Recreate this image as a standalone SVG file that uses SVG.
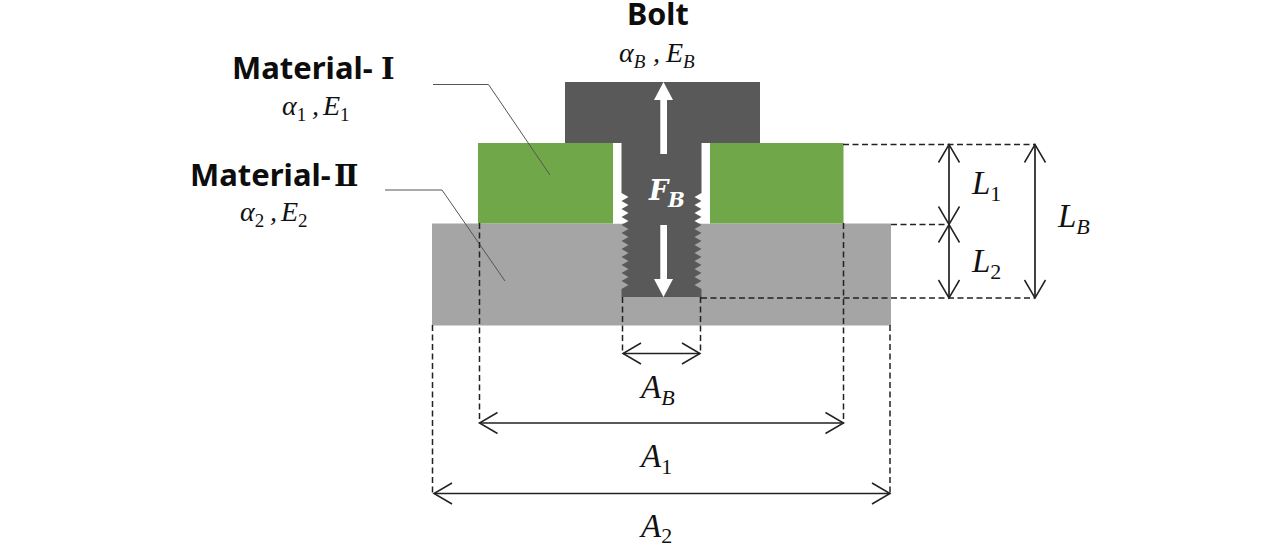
<svg xmlns="http://www.w3.org/2000/svg" width="1284" height="548" viewBox="0 0 1284 548">
<style>
.title{font-family:"Noto Sans","Noto Sans CJK JP",sans-serif;font-weight:700;font-size:31px;fill:#0d0d0d}
.num{font-family:"DejaVu Serif",serif;font-weight:700;font-size:29px}
.math{font-family:"Liberation Serif",serif;font-style:italic;fill:#111}
.m1{font-size:28px}
.m2{font-size:33px}
.s1{font-size:19px}
.s2{font-size:22px}
.sub{font-style:normal}
.fb{font-family:"DejaVu Serif",serif;font-weight:700;font-style:italic;fill:#fff}
.dash{fill:none;stroke:#222;stroke-width:1.500;stroke-dasharray:6 3.500}
.dim{fill:none;stroke:#222;stroke-width:1.700;marker-start:url(#open);marker-end:url(#open)}
.lead{fill:none;stroke:#555;stroke-width:1}
</style>
<defs>
<marker id="open" viewBox="-20 -12 22 24" refX="0" refY="0" markerWidth="22" markerHeight="24" markerUnits="userSpaceOnUse" orient="auto-start-reverse"><path d="M-18-10.500L0 0L-18 10.500" fill="none" stroke="#222" stroke-width="1.500"/></marker>
</defs>
<rect width="1284" height="548" fill="#fff"/>
<g id="material-2"><rect x="432" y="223.500" width="459" height="102" fill="#a5a5a5"/></g>
<g id="material-1"><rect x="478" y="143" width="135" height="80.500" fill="#70a849"/><rect x="710" y="143" width="133.500" height="80.500" fill="#70a849"/></g>
<g id="clearance"><rect x="613" y="143" width="9" height="80.500" fill="#fff"/><rect x="701" y="143" width="9" height="80.500" fill="#fff"/></g>
<g id="bolt"><path fill="#595959" d="M565 82H760V143H701.500V193L694.500 197L701.500 201L694.500 205L701.500 209L694.500 213L701.500 217L694.500 221L701.500 225L694.500 229L701.500 233L694.500 237L701.500 241L694.500 245L701.500 249L694.500 253L701.500 257L694.500 261L701.500 265L694.500 269L701.500 273L694.500 277L701.500 281L694.500 285L701.500 289V297H621.500V289L628.500 285L621.500 281L628.500 277L621.500 273L628.500 269L621.500 265L628.500 261L621.500 257L628.500 253L621.500 249L628.500 245L621.500 241L628.500 237L621.500 233L628.500 229L621.500 225L628.500 221L621.500 217L628.500 213L621.500 209L628.500 205L621.500 201L628.500 197L621.500 193V143H565Z"/>
<path fill="#fff" d="M663.500 82L673 100H667V154H660.300V100H654Z"/><path fill="#fff" d="M660.300 225H667V279H673L663.500 297L654 279H660.300Z"/>
<text class="fb" x="649" y="200" font-size="27">F</text><text class="fb" x="668" y="207" font-size="20">B</text></g>
<g id="connectors">
<path class="lead" d="M433 84.500H488.500L550 175"/><path class="lead" d="M385 190H442L505 281"/>
<path class="dash" d="M843 144.500H1035M891 224.500H948M701 298H1035M622.500 297V353M700.500 297V353M479.500 223V423M843.500 223V423M432.500 325V493M890 325V493"/>
<path class="dim" d="M949 144.500V224.500"/><path class="dim" d="M949 224.500V298"/><path class="dim" d="M1035 144.500V298"/>
<path class="dim" d="M623 353.500H700"/><path class="dim" d="M479.500 423H843.500"/><path class="dim" d="M434 493.500H890"/>
</g>
<g id="labels">
<text class="title" x="627" y="25" style="font-size:30.500px">Bolt</text>
<text class="title" x="232" y="79">Material- <tspan class="num" x="381">Ⅰ</tspan></text>
<text class="title" x="190" y="186">Material-<tspan class="num" x="334">Ⅱ</tspan></text>
<text class="math m1" x="619" y="62">α<tspan class="s1" dy="6">B</tspan><tspan dy="-6" x="653">,</tspan><tspan x="666">E</tspan><tspan class="s1" dy="6">B</tspan></text>
<text class="math m1" x="282" y="115">α<tspan class="sub s1" dy="6">1</tspan><tspan dy="-6" x="312">,</tspan><tspan x="323">E</tspan><tspan class="sub s1" dy="6">1</tspan></text>
<text class="math m1" x="240" y="221">α<tspan class="sub s1" dy="6">2</tspan><tspan dy="-6" x="270">,</tspan><tspan x="281">E</tspan><tspan class="sub s1" dy="6">2</tspan></text>
<text class="math m2" x="972" y="194">L<tspan class="sub s2" dy="7">1</tspan></text>
<text class="math m2" x="972" y="272">L<tspan class="sub s2" dy="7">2</tspan></text>
<text class="math m2" x="1058" y="227">L<tspan class="s2" dy="7">B</tspan></text>
<text class="math m2" x="641" y="398">A<tspan class="s2" dy="7">B</tspan></text>
<text class="math m2" x="641" y="467">A<tspan class="sub s2" dy="7">1</tspan></text>
<text class="math m2" x="641" y="537">A<tspan class="sub s2" dy="6">2</tspan></text>
</g>
</svg>
